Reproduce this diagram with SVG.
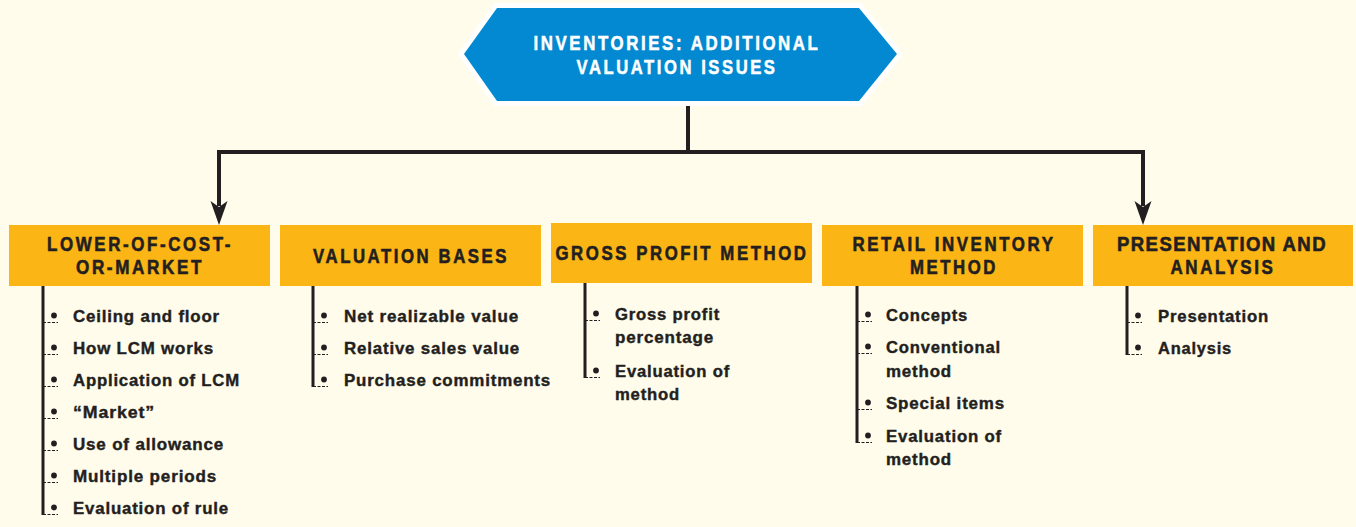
<svg xmlns="http://www.w3.org/2000/svg" width="1356" height="527" viewBox="0 0 1356 527">
<style>
.bg{fill:#FFFCEC}
.hex{fill:#0289D1;stroke:#FFFFFF;stroke-width:10;stroke-linejoin:miter;paint-order:stroke}
.htxt{font-family:"Liberation Sans",Arial,sans-serif;font-weight:bold;font-size:19.5px;fill:#FFFFFF;stroke:#FFFFFF;stroke-width:0.5;text-anchor:middle;letter-spacing:3px}
.box{fill:#FBB515}
.ttl{font-family:"Liberation Sans",Arial,sans-serif;font-weight:bold;font-size:19.5px;fill:#231F20;stroke:#231F20;stroke-width:0.6;text-anchor:middle;letter-spacing:3px}
.item{font-family:"Liberation Sans",Arial,sans-serif;font-weight:bold;font-size:16.5px;fill:#231F20;stroke:#231F20;stroke-width:0.4;letter-spacing:0.8px}
.conn{fill:none;stroke:#231F20;stroke-width:4}
.ahead{fill:#231F20}
.vline{stroke:#231F20;stroke-width:3;fill:none}
.dash{stroke:#231F20;stroke-width:1;stroke-dasharray:3 1.5;fill:none}
.dot{fill:#231F20}
</style>
<defs>
<g id="bul">
<path class="dash" d="M0,0.5 H15"/>
<circle class="dot" cx="11" cy="-6.5" r="2.9"/>
</g>
</defs>
<rect class="bg" x="0" y="0" width="1356" height="527"/>

<g id="connectors">
<path class="conn" d="M688,101 V152"/>
<path class="conn" d="M219,206 V152 H1143 V206"/>
<polygon class="ahead" points="219,225 210.5,201 219,207 227.5,201"/>
<polygon class="ahead" points="1143,225 1134.5,201 1143,207 1151.5,201"/>
</g>

<g id="root">
<polygon class="hex" points="464,54 497,8 859,8 897,54 859,101 497,101"/>
<text class="htxt" x="677" y="50" textLength="287" lengthAdjust="spacingAndGlyphs">INVENTORIES: ADDITIONAL</text>
<text class="htxt" x="677" y="74" textLength="201" lengthAdjust="spacingAndGlyphs">VALUATION ISSUES</text>
</g>

<g id="lcm">
<rect class="box" x="9" y="225" width="261" height="61"/>
<text class="ttl" x="140" y="251" textLength="186" lengthAdjust="spacingAndGlyphs">LOWER-OF-COST-</text>
<text class="ttl" x="140" y="274" textLength="128" lengthAdjust="spacingAndGlyphs">OR-MARKET</text>
<path class="vline" d="M43,286 V515"/>
<use href="#bul" x="43" y="322"/>
<use href="#bul" x="43" y="354"/>
<use href="#bul" x="43" y="386"/>
<use href="#bul" x="43" y="418"/>
<use href="#bul" x="43" y="450"/>
<use href="#bul" x="43" y="482"/>
<use href="#bul" x="43" y="514"/>
<text class="item" x="73" y="322" textLength="147" lengthAdjust="spacingAndGlyphs">Ceiling and floor</text>
<text class="item" x="73" y="354" textLength="141" lengthAdjust="spacingAndGlyphs">How LCM works</text>
<text class="item" x="73" y="386" textLength="167" lengthAdjust="spacingAndGlyphs">Application of LCM</text>
<text class="item" x="73" y="418" textLength="82" lengthAdjust="spacingAndGlyphs">“Market”</text>
<text class="item" x="73" y="450" textLength="151" lengthAdjust="spacingAndGlyphs">Use of allowance</text>
<text class="item" x="73" y="482" textLength="144" lengthAdjust="spacingAndGlyphs">Multiple periods</text>
<text class="item" x="73" y="514" textLength="156" lengthAdjust="spacingAndGlyphs">Evaluation of rule</text>
</g>

<g id="valuation-bases">
<rect class="box" x="280" y="225" width="261" height="61"/>
<text class="ttl" x="411" y="263" textLength="196" lengthAdjust="spacingAndGlyphs">VALUATION BASES</text>
<path class="vline" d="M313,286 V387"/>
<use href="#bul" x="313" y="322"/>
<use href="#bul" x="313" y="354"/>
<use href="#bul" x="313" y="386"/>
<text class="item" x="344" y="322" textLength="175" lengthAdjust="spacingAndGlyphs">Net realizable value</text>
<text class="item" x="344" y="354" textLength="176" lengthAdjust="spacingAndGlyphs">Relative sales value</text>
<text class="item" x="344" y="386" textLength="207" lengthAdjust="spacingAndGlyphs">Purchase commitments</text>
</g>

<g id="gross-profit">
<rect class="box" x="551" y="223" width="261" height="60"/>
<text class="ttl" x="682" y="260" textLength="253" lengthAdjust="spacingAndGlyphs">GROSS PROFIT METHOD</text>
<path class="vline" d="M585,283 V378"/>
<use href="#bul" x="585" y="320"/>
<use href="#bul" x="585" y="377"/>
<text class="item" x="615" y="320" textLength="105" lengthAdjust="spacingAndGlyphs">Gross profit</text>
<text class="item" x="615" y="343" textLength="99" lengthAdjust="spacingAndGlyphs">percentage</text>
<text class="item" x="615" y="377" textLength="115" lengthAdjust="spacingAndGlyphs">Evaluation of</text>
<text class="item" x="615" y="400" textLength="65" lengthAdjust="spacingAndGlyphs">method</text>
</g>

<g id="retail-inventory">
<rect class="box" x="822" y="225" width="261" height="61"/>
<text class="ttl" x="954" y="251" textLength="203" lengthAdjust="spacingAndGlyphs">RETAIL INVENTORY</text>
<text class="ttl" x="954" y="274" textLength="88" lengthAdjust="spacingAndGlyphs">METHOD</text>
<path class="vline" d="M857,286 V443"/>
<use href="#bul" x="857" y="321"/>
<use href="#bul" x="857" y="353"/>
<use href="#bul" x="857" y="409"/>
<use href="#bul" x="857" y="442"/>
<text class="item" x="886" y="321" textLength="82" lengthAdjust="spacingAndGlyphs">Concepts</text>
<text class="item" x="886" y="353" textLength="115" lengthAdjust="spacingAndGlyphs">Conventional</text>
<text class="item" x="886" y="377" textLength="66" lengthAdjust="spacingAndGlyphs">method</text>
<text class="item" x="886" y="409" textLength="119" lengthAdjust="spacingAndGlyphs">Special items</text>
<text class="item" x="886" y="442" textLength="116" lengthAdjust="spacingAndGlyphs">Evaluation of</text>
<text class="item" x="886" y="465" textLength="66" lengthAdjust="spacingAndGlyphs">method</text>
</g>

<g id="presentation">
<rect class="box" x="1093" y="225" width="260" height="61"/>
<text class="ttl" x="1222" y="251" textLength="210" lengthAdjust="spacingAndGlyphs" style="letter-spacing:1.5px">PRESENTATION AND</text>
<text class="ttl" x="1223" y="274" textLength="105" lengthAdjust="spacingAndGlyphs">ANALYSIS</text>
<path class="vline" d="M1127,286 V355"/>
<use href="#bul" x="1127" y="322"/>
<use href="#bul" x="1127" y="354"/>
<text class="item" x="1158" y="322" textLength="111" lengthAdjust="spacingAndGlyphs">Presentation</text>
<text class="item" x="1158" y="354" textLength="74" lengthAdjust="spacingAndGlyphs">Analysis</text>
</g>
</svg>
